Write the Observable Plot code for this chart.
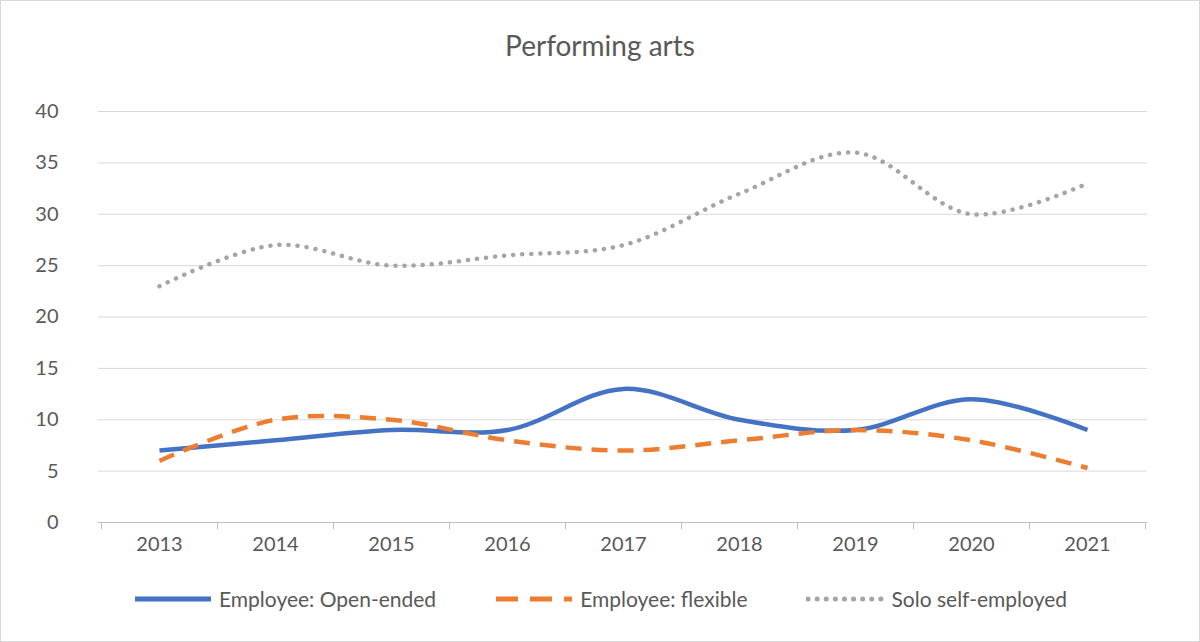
<!DOCTYPE html>
<html><head>
<script src="https://cdn.jsdelivr.net/npm/d3@7"></script>
<script src="https://cdn.jsdelivr.net/npm/@observablehq/plot@0.6"></script>
<style>
body{margin:0;background:#fff;font-family:Lato,"Open Sans",sans-serif;color:#595959}
#wrap{position:relative;width:1198px;height:640px;border:1px solid #d9d9d9;}
#title{height:80px;line-height:88px;text-align:center;font-size:28px;color:#595959}
#legend{display:flex;justify-content:center;gap:58px;font-size:21px;margin-top:25px}
#legend span{display:flex;align-items:center;gap:6px}
</style></head><body>
<div id="wrap">
<div id="title">Performing arts</div>
<div id="chart"></div>
<div id="legend"></div>
</div>
<script>
const years = ["2013","2014","2015","2016","2017","2018","2019","2020","2021"];
const openEnded = [7, 8, 9, 9, 13, 10, 9, 12, 9];
const flexible = [6, 10, 10, 8, 7, 8, 9, 8, 5.3];
const solo = [23, 27, 25, 26, 27, 32, 36, 30, 33];
const yTicks = [0,5,10,15,20,25,30,35,40];
const series = [
  {name:"Employee: Open-ended", values:openEnded, color:"#4472c4", dash:null, w:4.5},
  {name:"Employee: flexible", values:flexible, color:"#ed7d31", dash:"16,10", w:4.5},
  {name:"Solo self-employed", values:solo, color:"#a5a5a5", dash:"0.1,9", w:4.5}
];
const marks = [
  Plot.ruleY(yTicks.slice(1), {stroke:"#d9d9d9", strokeWidth:1}),
  Plot.ruleY([0], {stroke:"#bfbfbf", strokeWidth:1}),
  Plot.ruleX(years, {x:d=>d, dx:-58, y1:0, y2:-0.7, stroke:"#bfbfbf"}),
  Plot.ruleX([years[years.length-1]], {x:d=>d, dx:58, y1:0, y2:-0.7, stroke:"#bfbfbf"}),
];
for (const s of series) {
  const data = years.map((y,i)=>({year:y, v:s.values[i]}));
  marks.push(Plot.line(data, {x:"year", y:"v", stroke:s.color, strokeWidth:s.w,
    strokeDasharray:s.dash, strokeLinecap: s.dash && s.dash.startsWith("0.1") ? "round" : "butt",
    curve:"catmull-rom"}));
}
const chart = Plot.plot({
  width:1198, height:480, marginLeft:97, marginRight:52, marginTop:30, marginBottom:39,
  style:{fontFamily:"Lato, 'Open Sans', sans-serif", fontSize:"20px", color:"#595959", background:"#fff"},
  x:{type:"band", domain:years, padding:0, label:null, tickSize:0, tickPadding:14},
  y:{domain:[0,40], ticks:yTicks, label:null, tickSize:0, tickPadding:40, tickFormat:d=>d},
  marks
});
document.getElementById("chart").appendChild(chart);
const lg = document.getElementById("legend");
for (const s of series) {
  const sp = document.createElement("span");
  sp.innerHTML = `<svg width="80" height="12"><line x1="2" y1="6" x2="78" y2="6" stroke="${s.color}" stroke-width="5" ${s.dash?`stroke-dasharray="${s.dash==='16,10'?'22,12':'0.1,9'}"`:''} stroke-linecap="${s.dash&&s.dash.startsWith('0.1')?'round':'butt'}"/></svg>${s.name}`;
  lg.appendChild(sp);
}
</script>
</body></html>
